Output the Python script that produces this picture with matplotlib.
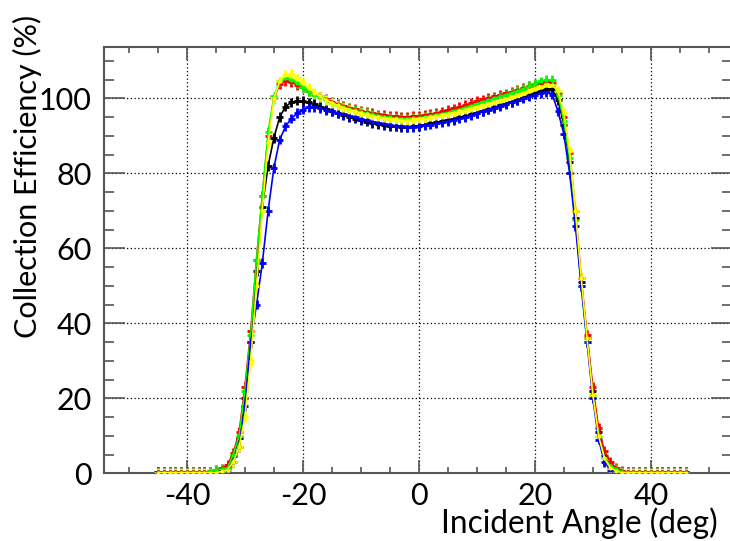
import matplotlib
matplotlib.use("Agg")
import matplotlib.pyplot as plt
import numpy as np
from matplotlib.ticker import MultipleLocator, FixedLocator, FixedFormatter

angles = list(range(-45, 47))

eff_black = [0.3]*10 + [0.6, 1.0, 1.8, 4.5, 9.5, 20, 35, 54, 71, 82, 89.5, 95, 97.8, 98.9, 99.4, 99.3,
    98.9, 98.4, 97.8, 97.2, 96.6, 96.1, 95.6, 95.1, 94.6, 94.2, 93.8, 93.5, 93.2, 92.9, 92.7, 92.5,
    92.4, 92.4, 92.5, 92.7, 93.0, 93.3, 93.6, 93.9, 94.2, 94.5, 94.9, 95.3, 95.7, 96.1, 96.6, 97.1,
    97.6, 98.1, 98.6, 99.1, 99.6, 100.2, 100.8, 101.4, 102.0, 102.5, 102.4, 99.5, 93, 83, 68, 51,
    36, 22, 11, 4.5, 1.8, 0.8] + [0.3]*12

eff_red = [0.3]*9 + [0.5, 0.8, 1.3, 2.2, 5.5, 11, 23, 38, 57, 74, 90, 100, 103.8, 104.6, 104.3, 103.6,
    103.0, 102.0, 101.2, 100.5, 99.8, 99.1, 98.5, 98.0, 97.5, 97.1, 96.7, 96.3, 96.0, 95.7, 95.5, 95.3,
    95.2, 95.1, 95.1, 95.2, 95.3, 95.5, 95.8, 96.1, 96.5, 96.9, 97.3, 97.7, 98.2, 98.7, 99.2, 99.7,
    100.1, 100.5, 100.9, 101.3, 101.7, 102.2, 102.7, 103.2, 103.7, 104.2, 104.5, 104.2, 101.5, 95,
    85.5, 70, 52, 37, 23, 12, 6, 3, 1.5, 0.7, 0.4] + [0.3]*10

eff_green = [0.2]*9 + [0.5, 0.8, 1.2, 1.5, 5, 10, 22, 37, 57, 74, 91, 100.5, 104.5, 105.3, 105.0, 104.0,
    103.0, 102.0, 101.0, 100.3, 99.5, 98.8, 98.2, 97.7, 97.2, 96.8, 96.4, 96.0, 95.7, 95.4, 95.1, 94.9,
    94.7, 94.6, 94.6, 94.7, 94.8, 95.0, 95.3, 95.6, 95.9, 96.2, 96.6, 97.0, 97.5, 98.0, 98.5, 99.0,
    99.5, 100.0, 100.5, 101.0, 101.5, 102.0, 102.6, 103.2, 103.8, 104.5, 105.0, 104.8, 101.0, 94,
    84, 67.5, 50, 35, 21, 10, 4.2, 2.0, 1.1, 0.4] + [0.2]*11

eff_yellow = [0.2]*11 + [0.5, 1.0, 3, 7, 15, 30, 50, 70, 88, 100, 104.5, 106.2, 106.5, 105.3,
    104.0, 102.7, 101.5, 100.5, 99.6, 98.8, 98.1, 97.5, 97.0, 96.5, 96.1, 95.7, 95.3, 95.0, 94.8, 94.6,
    94.4, 94.3, 94.3, 94.4, 94.6, 94.8, 95.0, 95.3, 95.6, 95.9, 96.2, 96.6, 97.0, 97.4, 97.8, 98.2,
    98.6, 99.0, 99.4, 99.9, 100.3, 100.8, 101.3, 101.9, 102.5, 103.1, 103.5, 103.6, 102.0, 96,
    86, 70, 52, 36, 21, 10, 4, 1.5, 0.6] + [0.2]*12

eff_blue = [0.2]*11 + [0.5, 1.0, 3, 7, 18, 35, 45, 56, 70, 81.5, 89, 92.5, 94.6, 96.0,
    97.0, 97.6, 97.6, 97.3, 96.9, 96.5, 96.1, 95.7, 95.3, 94.9, 94.5, 94.2, 93.8, 93.5, 93.2, 92.9,
    92.7, 92.5, 92.4, 92.4, 92.6, 92.8, 93.0, 93.3, 93.6, 93.9, 94.3, 94.7, 95.1, 95.5, 96.0, 96.5,
    97.0, 97.5, 98.0, 98.5, 99.0, 99.5, 100.0, 100.5, 101.0, 101.4, 101.6, 101.0, 96.5, 90.5,
    80, 66, 50, 35, 20, 9, 3, 1.0, 0.4] + [0.2]*12

series = [(eff_black, "black"), (eff_red, "#ff0000"), (eff_green, "#00ff00"),
          (eff_blue, "#0000ff"), (eff_yellow, "#ffff00")]

x_ticks = [-40, -20, 0, 20, 40]
x_ticklabels = ["-40", "-20", "0", "20", "40"]
y_ticks = [0, 20, 40, 60, 80, 100]
y_ticklabels = ["0", "20", "40", "60", "80", "100"]

plt.rcParams['font.family'] = ['Lato', 'DejaVu Sans']

W, H = 730, 541
fig = plt.figure(figsize=(W/100, H/100), dpi=100)
left, right, bottom, top = 104, 732, 473.3, 47
ax = fig.add_axes([left/W, 1-bottom/H, (right-left)/W, (bottom-top)/H])

for vals, col in series:
    n = min(len(angles), len(vals))
    xs = np.array(angles[:n]); ys = np.array(vals[:n])
    ax.errorbar(xs, ys, xerr=0.6, yerr=1.3, fmt='-', color=col, lw=1.2,
                elinewidth=2.0, capsize=0, marker='.', ms=4, zorder=3)

ax.set_xlim(-54.3, 54.0)
ax.set_ylim(0, 113.7)
ax.xaxis.set_major_locator(FixedLocator(x_ticks))
ax.xaxis.set_major_formatter(FixedFormatter(x_ticklabels))
ax.yaxis.set_major_locator(FixedLocator(y_ticks))
ax.yaxis.set_major_formatter(FixedFormatter(y_ticklabels))
ax.xaxis.set_minor_locator(MultipleLocator(5))
ax.yaxis.set_minor_locator(MultipleLocator(5))

axcol = "#555555"
for s in ax.spines.values():
    s.set_color(axcol)
    s.set_linewidth(1.5)

ax.tick_params(axis='x', which='major', direction='in', length=9.5, width=1.2, color=axcol,
               top=True, bottom=True, labelsize=22, pad=6)
ax.tick_params(axis='x', which='minor', direction='in', length=4, width=1.2, color=axcol,
               top=True, bottom=True)
ax.tick_params(axis='y', which='major', direction='in', length=15, width=1.2, color=axcol,
               left=True, right=True, labelsize=22, pad=9)
ax.tick_params(axis='y', which='minor', direction='in', length=7.5, width=1.2, color=axcol,
               left=True, right=True)

ax.grid(True, which='major', linestyle=(0, (1, 2)), color='black', linewidth=0.9, zorder=0)
ax.set_axisbelow(True)

fig.text(27/W, 1-176/H, "Collection Efficiency (%)", rotation=90, ha='center', va='center',
         fontsize=22)
fig.text(718/W, 1-523/H, "Incident Angle (deg)", ha='right', va='center', fontsize=22.8)

fig.savefig("out.png", dpi=100)
